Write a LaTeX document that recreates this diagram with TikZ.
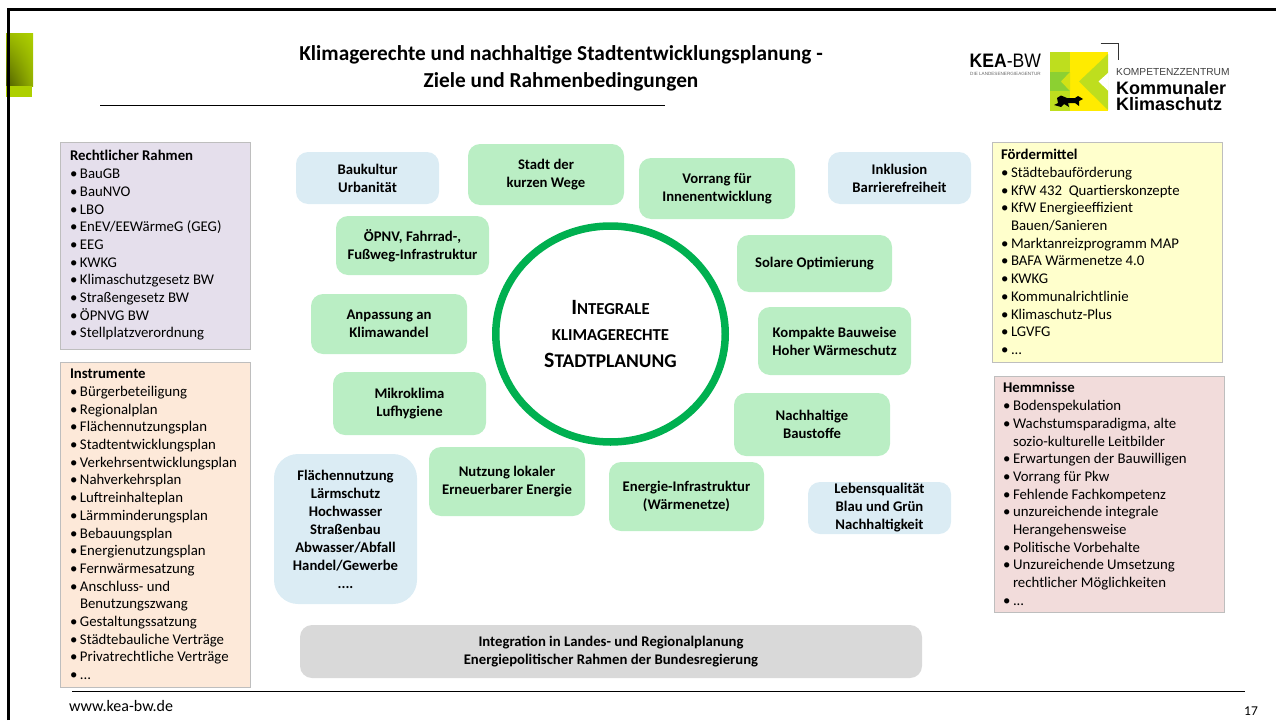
\documentclass[tikz,border=0pt]{standalone}
\usepackage{fontspec}
\setmainfont{Carlito}
\newfontfamily\logofont{Liberation Sans}
\usetikzlibrary{shadings,shapes.geometric}
\definecolor{kea_green}{RGB}{186, 238, 196}
\definecolor{kea_blue}{RGB}{219, 236, 244}
\definecolor{kea_grey}{RGB}{217, 217, 217}
\definecolor{kea_ring}{RGB}{0, 176, 80}
\definecolor{kea_lilac}{RGB}{229, 223, 236}
\definecolor{kea_peach}{RGB}{253, 233, 217}
\definecolor{kea_yellow}{RGB}{255, 255, 204}
\definecolor{kea_rose}{RGB}{242, 220, 219}
\definecolor{kea_edge}{RGB}{190, 190, 190}
\definecolor{kea_lime}{RGB}{174, 208, 0}
\definecolor{logo_lime}{RGB}{190, 222, 30}
\definecolor{logo_mid}{RGB}{140, 208, 50}
\definecolor{logo_yellow}{RGB}{255, 235, 0}
\tikzstyle{gn}=[rectangle,rounded corners=12pt,fill=kea_green,inner sep=0pt,align=center,
  font=\fontsize{14.7}{18}\selectfont\bfseries]
\tikzstyle{bn}=[gn,fill=kea_blue]
\tikzstyle{ln}=[rectangle,draw=kea_edge,line width=0.8pt,inner sep=0pt,align=flush left,
  font=\fontsize{14.8}{17.7}\selectfont]
\tikzstyle{tn}=[inner sep=0pt,align=center,font=\fontsize{21.3}{27}\selectfont\bfseries]
\tikzstyle{none}=[inner sep=0pt]
\newcommand{\bu}{\makebox[10pt][l]{\textbullet}}
\newcommand{\nb}{\hspace*{10pt}}
\begin{document}
\begin{tikzpicture}[x=1pt,y=-1pt]
            \useasboundingbox (0,0) rectangle (1276,720);
            % corner block
            \shade [lower left=black!55!kea_lime, upper left=kea_lime!90!black, lower right=kea_lime!85!black, upper right=kea_lime] (6,33) rectangle (33,86);
            \fill [kea_lime] (6,86) rectangle (32,97);
            \draw [line width=3pt] (8,720) -- (8,9.5) -- (1276,9.5);
            % title
            \node [style=tn] (0) at (561,68.5) {Klimagerechte und nachhaltige Stadtentwicklungsplanung -\\Ziele und Rahmenbedingungen};
            \coordinate (1) at (100,105);
            \coordinate (2) at (665,105);
            \draw [line width=0.8pt] (1) to (2);
            % logos
            \node [style=none,font=\logofont\fontsize{19.5}{20}\selectfont,anchor=west] (3) at (969.5,61) {\scalebox{0.9}[1]{\textbf{KEA}-BW}};
            \node [style=none,font=\logofont\fontsize{4.6}{5}\selectfont,text=black!60,anchor=west] (4) at (970,73.5) {DIE LANDESENERGIEAGENTUR};
            \fill [logo_lime] (1050,52) rectangle (1070,111);
            \fill [logo_yellow] (1070,52) rectangle (1108,111);
            \fill [logo_mid] (1050,72) rectangle (1070,91);
            \fill [logo_lime!70!logo_yellow] (1070,72) -- (1061,81.5) -- (1070,91) -- cycle;
            \fill [logo_lime] (1108,54) -- (1079,81.5) -- (1108,110) -- cycle;
            \fill [white] (1108.5,72.5) -- (1098.5,81.5) -- (1108.5,91) -- cycle;
            \fill [black] (1054,105) -- (1058,103) -- (1057,98) -- (1061,95.5) -- (1067,98) -- (1075,98) -- (1078,96) -- (1083,99) -- (1079,101) -- (1079,106) -- (1075,103) -- (1068,103) -- (1069,107) -- (1064,104) -- (1061,107) -- cycle;
            \draw [line width=0.8pt,black!80] (1100.5,43) -- (1118,43) -- (1118,60);
            \node [style=none,font=\logofont\fontsize{10.2}{11}\selectfont,text=black!75,anchor=west] (5) at (1116,72) {KOMPETENZZENTRUM};
            \node [style=none,font=\logofont\fontsize{18}{16.5}\selectfont\bfseries,align=left,anchor=north west] (6) at (1116,81) {Kommunaler\\Klimaschutz};
            % left boxes
            \node [style=ln,fill=kea_lilac,minimum width=190pt,minimum height=207pt,text width=170pt] (7) at (155,245.5) {\textbf{Rechtlicher Rahmen}\\
              \bu BauGB\\\bu BauNVO\\\bu LBO\\\bu EnEV/EEWärmeG (GEG)\\\bu EEG\\\bu KWKG\\\bu Klimaschutzgesetz BW\\\bu Straßengesetz BW\\\bu ÖPNVG BW\\\bu Stellplatzverordnung};
            \node [style=ln,fill=kea_peach,minimum width=190pt,minimum height=325pt,text width=170pt] (8) at (155,524.5) {\textbf{Instrumente}\\
              \bu Bürgerbeteiligung\\\bu Regionalplan\\\bu Flächennutzungsplan\\\bu Stadtentwicklungsplan\\\bu Verkehrsentwicklungsplan\\\bu Nahverkehrsplan\\\bu Luftreinhalteplan\\\bu Lärmminderungsplan\\\bu Bebauungsplan\\\bu Energienutzungsplan\\\bu Fernwärmesatzung\\\bu Anschluss- und\\\nb Benutzungszwang\\\bu Gestaltungssatzung\\\bu Städtebauliche Verträge\\\bu Privatrechtliche Verträge\\\bu ...};
            % right boxes
            \node [style=ln,fill=kea_yellow,minimum width=230pt,minimum height=220pt,text width=212pt] (9) at (1107,252) {\textbf{Fördermittel}\\
              \bu Städtebauförderung\\\bu KfW 432\ \ Quartierskonzepte\\\bu KfW Energieeffizient\\\nb Bauen/Sanieren\\\bu Marktanreizprogramm MAP\\\bu BAFA Wärmenetze 4.0\\\bu KWKG\\\bu Kommunalrichtlinie\\\bu Klimaschutz-Plus\\\bu LGVFG\\\bu ...};
            \node [style=ln,fill=kea_rose,minimum width=230pt,minimum height=236pt,text width=212pt] (10) at (1109,494) {\textbf{Hemmnisse}\\
              \bu Bodenspekulation\\\bu Wachstumsparadigma, alte\\\nb sozio-kulturelle Leitbilder\\\bu Erwartungen der Bauwilligen\\\bu Vorrang für Pkw\\\bu Fehlende Fachkompetenz\\\bu unzureichende integrale\\\nb Herangehensweise\\\bu Politische Vorbehalte\\\bu Unzureichende Umsetzung\\\nb rechtlicher Möglichkeiten\\\bu ...};
            % centre
            \node [ellipse,draw=kea_ring,line width=7.5pt,fill=white,minimum width=229.5pt,minimum height=216pt,inner sep=0pt,align=center,font=\fontsize{16.7}{26.5}\selectfont\bfseries] (11) at (610.5,334) {{\fontsize{21.8}{26.5}\selectfont I}NTEGRALE\\KLIMAGERECHTE\\{\fontsize{21.8}{26.5}\selectfont S}{\fontsize{19.4}{26.5}\selectfont TADTPLANUNG}};
            % topics
            \node [style=bn,minimum width=143pt,minimum height=52pt] (12) at (367.5,178) {Baukultur\\Urbanität};
            \node [style=gn,minimum width=156pt,minimum height=61pt] (13) at (546,174.5) {Stadt der\\kurzen Wege};
            \node [style=gn,minimum width=156pt,minimum height=61pt] (14) at (717,188.5) {Vorrang für\\Innenentwicklung};
            \node [style=bn,minimum width=143pt,minimum height=52pt] (15) at (899.5,178) {Inklusion\\Barrierefreiheit};
            \node [style=gn,minimum width=153pt,minimum height=59pt] (16) at (412.5,245.5) {ÖPNV, Fahrrad-,\\Fußweg-Infrastruktur};
            \node [style=gn,minimum width=155pt,minimum height=57pt] (17) at (814.5,263.5) {Solare Optimierung};
            \node [style=gn,minimum width=156pt,minimum height=60pt] (18) at (389,324) {Anpassung an\\Klimawandel};
            \node [style=gn,minimum width=153pt,minimum height=68pt] (19) at (834.5,341) {Kompakte Bauweise\\Hoher Wärmeschutz};
            \node [style=gn,minimum width=153pt,minimum height=63pt] (20) at (409.5,403.5) {Mikroklima\\Lufhygiene};
            \node [style=gn,minimum width=156pt,minimum height=63pt] (21) at (812,424.5) {Nachhaltige\\Baustoffe};
            \node [style=gn,minimum width=156pt,minimum height=69pt] (22) at (507,481.5) {Nutzung lokaler\\Erneuerbarer Energie};
            \node [style=gn,minimum width=155pt,minimum height=69pt] (23) at (686.5,496.5) {Energie-Infrastruktur\\(Wärmenetze)};
            \node [style=bn,minimum width=143pt,minimum height=52pt] (24) at (879.5,508) {Lebensqualität\\Blau und Grün\\Nachhaltigkeit};
            \node [style=bn,minimum width=143pt,minimum height=150pt,rounded corners=24pt] (25) at (345.5,529) {Flächennutzung\\Lärmschutz\\Hochwasser\\Straßenbau\\Abwasser/Abfall\\Handel/Gewerbe\\....};
            \node [style=gn,fill=kea_grey,minimum width=622pt,minimum height=53pt] (26) at (611,651.5) {Integration in Landes- und Regionalplanung\\Energiepolitischer Rahmen der Bundesregierung};
            % footer
            \coordinate (27) at (72,691.5);
            \coordinate (28) at (1245,691.5);
            \draw [line width=0.8pt] (27) to (28);
            \node [style=none,font=\fontsize{16}{16}\selectfont,anchor=west] (29) at (69,706) {www.kea-bw.de};
            \node [style=none,font=\fontsize{13.5}{13}\selectfont] (30) at (1251,711) {17};
    \end{tikzpicture}
\end{document}
